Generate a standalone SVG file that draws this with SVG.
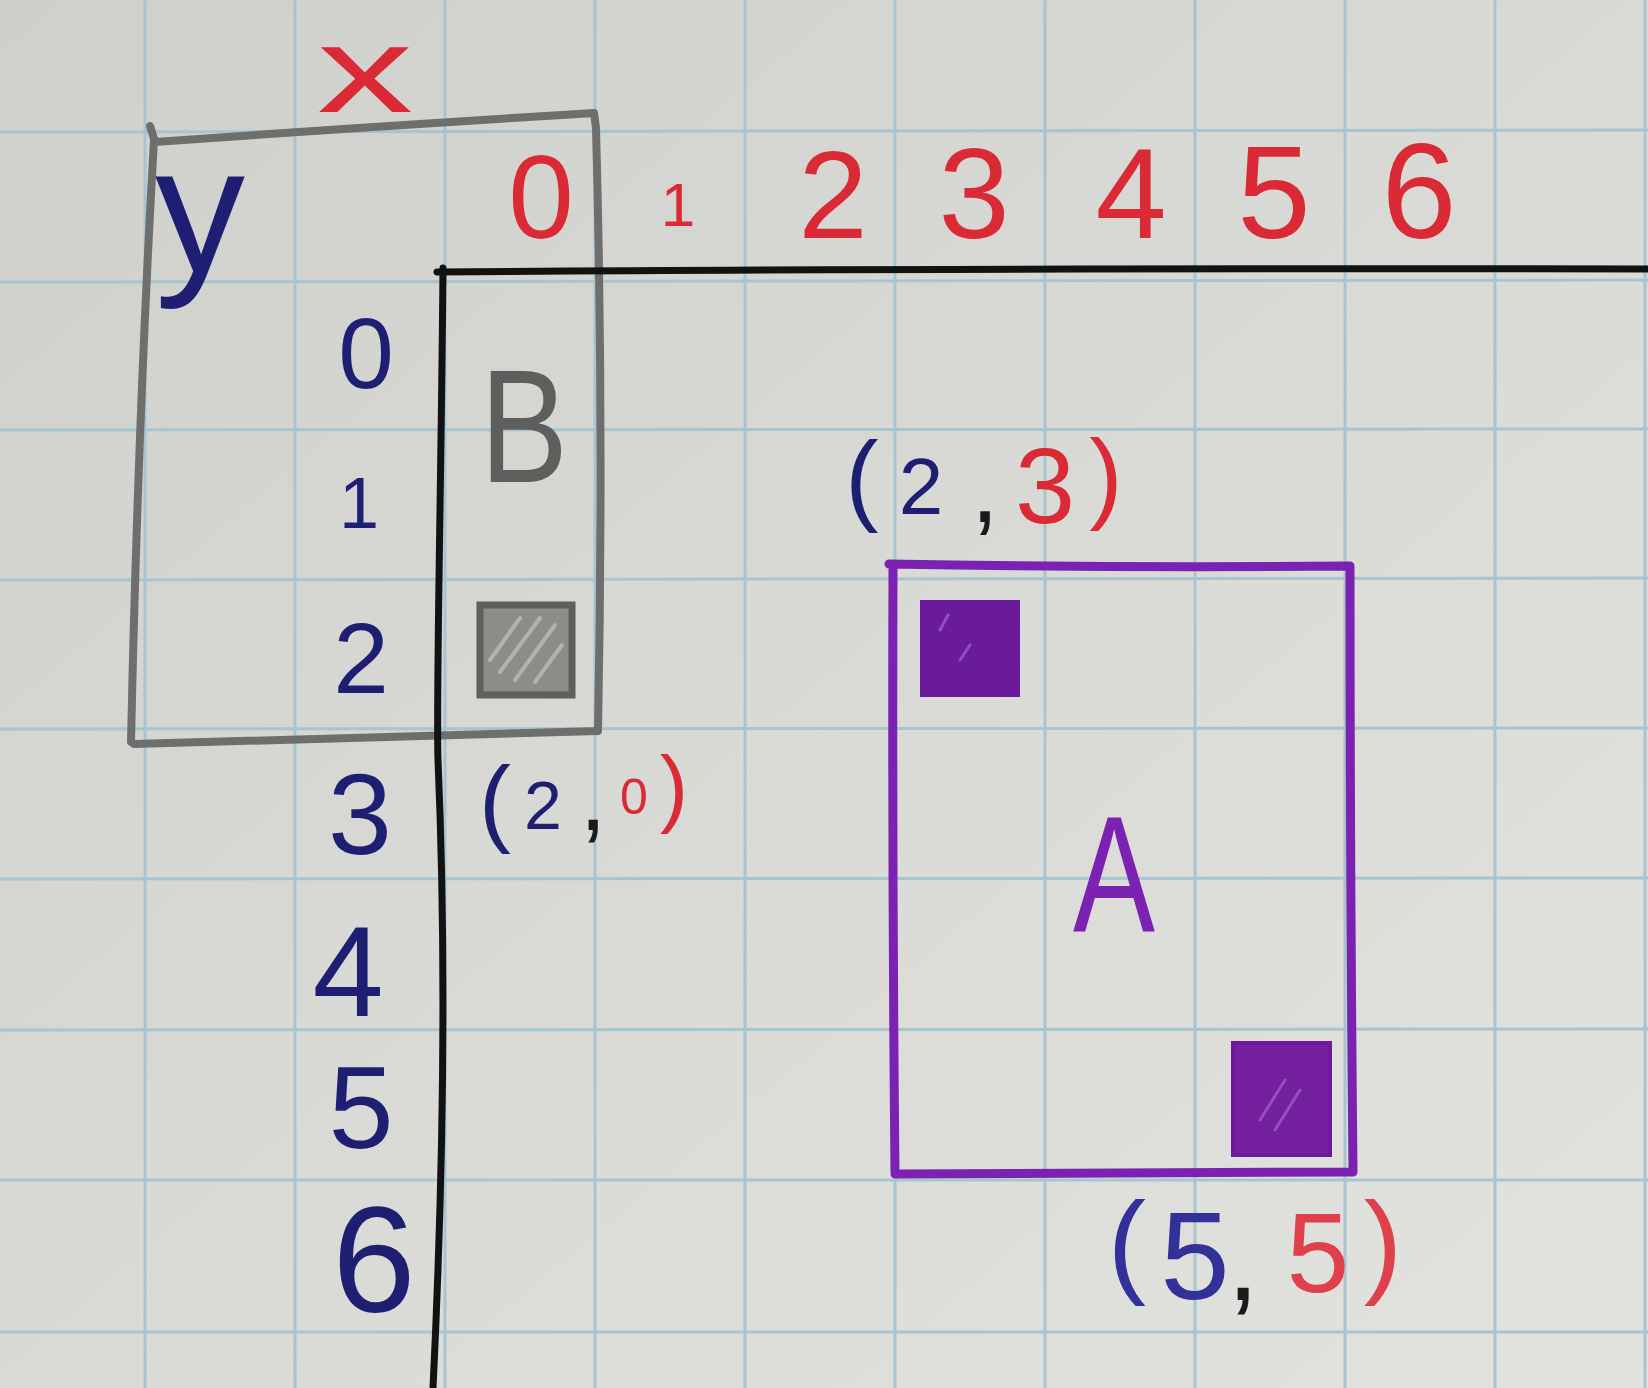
<svg xmlns="http://www.w3.org/2000/svg" width="1648" height="1388" viewBox="0 0 1648 1388">
  <defs>
    <linearGradient id="paper" x1="0" y1="0" x2="1" y2="1">
      <stop offset="0" stop-color="#cfd0cb"/>
      <stop offset="0.5" stop-color="#d9dad5"/>
      <stop offset="1" stop-color="#e2e2de"/>
    </linearGradient>
  </defs>
  <style>
    .grid line { stroke: #a6c5d1; stroke-width: 3; }
    .ink { fill: none; stroke-linecap: round; stroke-linejoin: round; }
    .axis { stroke: #121212; stroke-width: 7; }
    .pencil { stroke: #6e6e6c; stroke-width: 8; }
    .purple { stroke: #7b22b3; stroke-width: 9; }
    text { font-family: "Liberation Sans", Arial, sans-serif; text-anchor: middle; }
    .red { fill: #d92a36; }
    .blue { fill: #1e1f72; }
    .blue2 { fill: #33309a; }
    .blk { fill: #1a1a1a; }
    .grey { fill: #5e5e5c; }
    .pur { fill: #7b22b3; }
  </style>

  <rect width="1648" height="1388" fill="url(#paper)"/>

  <g id="grid" class="grid">
    <line x1="145" y1="0" x2="145" y2="1388"/>
    <line x1="295" y1="0" x2="295" y2="1388"/>
    <line x1="445" y1="0" x2="445" y2="1388"/>
    <line x1="595" y1="0" x2="595" y2="1388"/>
    <line x1="745" y1="0" x2="745" y2="1388"/>
    <line x1="895" y1="0" x2="895" y2="1388"/>
    <line x1="1045" y1="0" x2="1045" y2="1388"/>
    <line x1="1195" y1="0" x2="1195" y2="1388"/>
    <line x1="1345" y1="0" x2="1345" y2="1388"/>
    <line x1="1495" y1="0" x2="1495" y2="1388"/>
    <line x1="1645" y1="0" x2="1645" y2="1388"/>
    <line x1="0" y1="132" x2="1648" y2="130"/>
    <line x1="0" y1="282" x2="1648" y2="280"/>
    <line x1="0" y1="430" x2="1648" y2="429"/>
    <line x1="0" y1="580" x2="1648" y2="578"/>
    <line x1="0" y1="729" x2="1648" y2="728"/>
    <line x1="0" y1="879" x2="1648" y2="878"/>
    <line x1="0" y1="1030" x2="1648" y2="1029"/>
    <line x1="0" y1="1180" x2="1648" y2="1180"/>
    <line x1="0" y1="1332" x2="1648" y2="1332"/>
  </g>

  <g id="box-B">
    <path class="ink pencil" d="M150,126 L155,142 Q350,128 594,113 L596,128 Q604,420 598,731 Q360,738 134,744 L131,742 Q138,420 154,140"/>
    <text class="grey" x="524" y="482" font-size="162" textLength="88" lengthAdjust="spacingAndGlyphs">B</text>
    <rect x="480" y="605" width="92" height="90" fill="#8c8c89" stroke="#5f5f5d" stroke-width="7"/>
    <g stroke="#b2b2ae" stroke-width="4" stroke-linecap="round">
      <line x1="490" y1="660" x2="520" y2="618"/>
      <line x1="500" y1="672" x2="540" y2="618"/>
      <line x1="515" y1="680" x2="555" y2="625"/>
      <line x1="535" y1="682" x2="562" y2="645"/>
    </g>
  </g>

  <g id="axes" class="ink axis">
    <path d="M437,272 Q900,268 1648,269"/>
    <path d="M443,268 C441,500 436,700 438,760 C444,900 447,1100 433,1388"/>
  </g>

  <g id="axis-labels">
    <text class="red" x="365" y="112" font-size="122" textLength="96" lengthAdjust="spacingAndGlyphs">x</text>
    <text class="blue" x="200" y="272" font-size="180">y</text>
  </g>

  <g id="column-numbers" class="red">
    <text x="541" y="238" font-size="118">0</text>
    <text x="678" y="226" font-size="62">1</text>
    <text x="833" y="238" font-size="125">2</text>
    <text x="974" y="238" font-size="128">3</text>
    <text x="1131" y="238" font-size="128">4</text>
    <text x="1274" y="238" font-size="132">5</text>
    <text x="1419" y="238" font-size="135">6</text>
  </g>

  <g id="row-numbers" class="blue">
    <text x="366" y="388" font-size="100">0</text>
    <text x="359" y="528" font-size="72">1</text>
    <text x="361" y="693" font-size="100">2</text>
    <text x="360" y="854" font-size="115">3</text>
    <text x="348" y="1016" font-size="128">4</text>
    <text x="361" y="1148" font-size="117">5</text>
    <text x="374" y="1312" font-size="150">6</text>
  </g>

  <g id="label-2-0">
    <text class="blue" x="495" y="834" font-size="96">(</text>
    <text class="blue" x="543" y="829" font-size="68">2</text>
    <text class="blk" x="593" y="830" font-size="96">,</text>
    <text class="red" x="634" y="814" font-size="50">0</text>
    <text class="red" x="674" y="816" font-size="85">)</text>
  </g>

  <g id="box-A">
    <path class="ink purple" d="M889,564 Q1120,568 1350,566 Q1350,870 1353,1172 Q1120,1174 895,1174 Q892,870 893,566"/>
    <rect x="922" y="602" width="96" height="93" fill="#6a1b9c" stroke="#6a1b9c" stroke-width="4"/>
    <rect x="1233" y="1043" width="97" height="112" fill="#74209f" stroke="#6a1b9c" stroke-width="4"/>
    <g stroke="#a168c8" stroke-width="3" stroke-linecap="round" opacity="0.7">
      <line x1="940" y1="630" x2="948" y2="615"/>
      <line x1="960" y1="660" x2="970" y2="645"/>
      <line x1="1260" y1="1120" x2="1285" y2="1080"/>
      <line x1="1275" y1="1130" x2="1300" y2="1090"/>
    </g>
    <text class="pur" x="1114" y="931" font-size="165" textLength="82" lengthAdjust="spacingAndGlyphs">A</text>
  </g>

  <g id="label-2-3">
    <text class="blue" x="862" y="512" font-size="100">(</text>
    <text class="blue" x="921" y="514" font-size="80">2</text>
    <text class="blk" x="985" y="522" font-size="100">,</text>
    <text class="red" x="1045" y="523" font-size="108">3</text>
    <text class="red" x="1106" y="510" font-size="100">)</text>
  </g>

  <g id="label-5-5">
    <text class="blue2" x="1127" y="1282" font-size="115">(</text>
    <text class="blue2" x="1195" y="1299" font-size="125">5</text>
    <text class="blk" x="1243" y="1300" font-size="115">,</text>
    <text x="1318" y="1292" font-size="113" fill="#e0404a">5</text>
    <text x="1383" y="1282" font-size="115" fill="#e0404a">)</text>
  </g>
</svg>
